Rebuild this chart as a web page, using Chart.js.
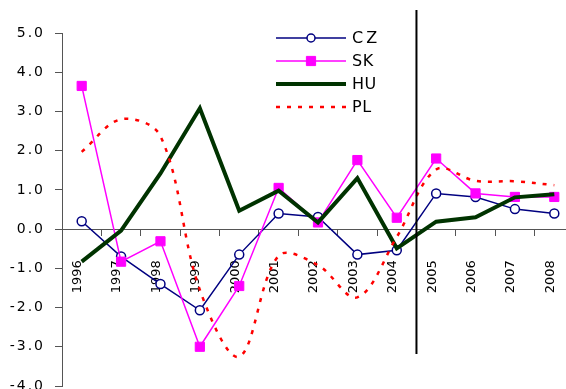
<!DOCTYPE html>
<html>
<head>
<meta charset="utf-8">
<script src="https://cdn.jsdelivr.net/npm/chart.js@4"></script>
<style>
  html, body { margin: 0; padding: 0; background: #fff; overflow: hidden; }
  #wrap { width: 574px; height: 389px; }
</style>
</head>
<body>
<div id="wrap"><canvas id="c" width="574" height="389"></canvas></div>
<script>
// Annual values, 1996-2008
const years = ['1996','1997','1998','1999','2000','2001','2002','2003','2004','2005','2006','2007','2008'];
const cz = [0.20, -0.70, -1.40, -2.07, -0.65, 0.40, 0.31, -0.65, -0.54, 0.91, 0.82, 0.51, 0.40];
const sk = [3.65, -0.83, -0.31, -3.00, -1.45, 1.05, 0.17, 1.76, 0.29, 1.80, 0.91, 0.82, 0.82];
const hu = [-0.83, -0.04, 1.42, 3.08, 0.47, 0.98, 0.17, 1.30, -0.49, 0.19, 0.30, 0.81, 0.89];
const pl = [1.97, 2.80, 2.37, -1.55, -3.25, -0.68, -0.92, -1.74, -0.20, 1.52, 1.23, 1.22, 1.12];
const yMin = -4;
const yMax = 5;
const yStep = 1;
const breakAfter = '2004';   // divider between 2004 and 2005

const FONT = 'DejaVu Sans, Verdana, sans-serif';
const AXIS = '#555555';

// Vertical divider line between two categories
const dividerPlugin = {
  id: 'divider',
  afterDatasetsDraw(chart) {
    const x = chart.scales.x, area = chart.chartArea, ctx = chart.ctx;
    const i = years.indexOf(breakAfter);
    const px = (x.getPixelForValue(i) + x.getPixelForValue(i + 1)) / 2;
    ctx.save();
    ctx.strokeStyle = '#000';
    ctx.lineWidth = 2;
    ctx.beginPath();
    ctx.moveTo(px, area.top - 23);
    ctx.lineTo(px, area.bottom - 32);
    ctx.stroke();
    ctx.restore();
  }
};

// Legend: line sample with marker, then label
const legendPlugin = {
  id: 'lineLegend',
  afterDraw(chart) {
    const ctx = chart.ctx;
    const x0 = 276, x1 = 346, tx = 352, y0 = 38, dy = 23;
    chart.data.datasets.forEach((ds, k) => {
      const y = y0 + k * dy;
      ctx.save();
      ctx.strokeStyle = ds.borderColor;
      ctx.lineWidth = ds.borderWidth;
      ctx.setLineDash(ds.borderDash || []);
      ctx.beginPath();
      ctx.moveTo(x0, y);
      ctx.lineTo(x1, y);
      ctx.stroke();
      ctx.setLineDash([]);
      if (ds.pointRadius > 0) {
        ctx.fillStyle = ds.pointBackgroundColor;
        ctx.strokeStyle = ds.pointBorderColor;
        ctx.lineWidth = ds.pointBorderWidth;
        Chart.helpers.drawPoint(ctx, {
          pointStyle: ds.pointStyle, rotation: 0,
          radius: ds.legendRadius || ds.pointRadius, borderWidth: ds.pointBorderWidth
        }, (x0 + x1) / 2, y);
      }
      ctx.fillStyle = '#000';
      ctx.font = '16px ' + FONT;
      ctx.textBaseline = 'middle';
      ctx.textAlign = 'left';
      ctx.letterSpacing = ds.label === 'CZ' ? '3px' : '0.5px';
      ctx.fillText(ds.label, tx, y + 1);
      ctx.restore();
    });
  }
};

// Slightly tracked value labels on the vertical axis
const spacedLabels = {
  id: 'spacedLabels',
  afterLayout(chart) {
    const s = chart.scales.y;
    if (!s || s._spaced) return;
    const orig = s.drawLabels;
    s.drawLabels = function (area) {
      this.ctx.save();
      this.ctx.letterSpacing = '2px';
      orig.call(this, area);
      this.ctx.restore();
    };
    s._spaced = true;
  }
};

new Chart(document.getElementById('c'), {
  type: 'line',
  data: {
    labels: years,
    datasets: [
      {
        label: 'CZ', data: cz, order: 4,
        borderColor: '#000080', borderWidth: 1.5,
        pointStyle: 'circle', pointRadius: 4.5, legendRadius: 4,
        pointBackgroundColor: '#ffffff', pointBorderColor: '#000080', pointBorderWidth: 1.5,
        tension: 0
      },
      {
        label: 'SK', data: sk, order: 3,
        borderColor: '#ff00ff', borderWidth: 1.5,
        pointStyle: 'rect', pointRadius: 6.5,
        pointBackgroundColor: '#ff00ff', pointBorderColor: '#ff00ff', pointBorderWidth: 1,
        tension: 0
      },
      {
        label: 'HU', data: hu, order: 2,
        borderColor: '#003300', borderWidth: 4,
        pointRadius: 0,
        tension: 0
      },
      {
        label: 'PL', data: pl, order: 1,
        borderColor: '#ff0000', borderWidth: 2.5, borderDash: [4, 7],
        pointRadius: 0,
        tension: 0.35
      }
    ]
  },
  options: {
    responsive: false,
    animation: false,
    devicePixelRatio: 1,
    layout: { autoPadding: false, padding: { left: 0, right: 0, top: 33, bottom: 3 } },
    plugins: { legend: { display: false }, tooltip: { enabled: false } },
    scales: {
      x: {
        type: 'category',
        position: { y: 0 },
        offset: true,
        grid: { offset: true, drawOnChartArea: false, drawTicks: true, tickLength: 6, color: AXIS },
        border: { display: true, color: AXIS, width: 1 },
        ticks: {
          autoSkip: false, minRotation: 90, maxRotation: 90, padding: 25, labelOffset: -4,
          color: '#000', font: { family: FONT, size: 13 }
        },
        afterFit(s) { s.paddingLeft = 0; s.paddingRight = 0; }
      },
      y: {
        min: yMin, max: yMax,
        grid: { drawOnChartArea: false, drawTicks: true, tickLength: 7, color: AXIS },
        border: { display: true, color: AXIS, width: 1 },
        ticks: {
          stepSize: yStep, padding: 10, color: '#000',
          font: { family: FONT, size: 14 },
          callback: v => Number(v).toFixed(1)
        },
        afterFit(s) { s.width = 62; s.paddingTop = 0; s.paddingBottom = 0; }
      }
    }
  },
  plugins: [spacedLabels, dividerPlugin, legendPlugin]
});
</script>
</body>
</html>
